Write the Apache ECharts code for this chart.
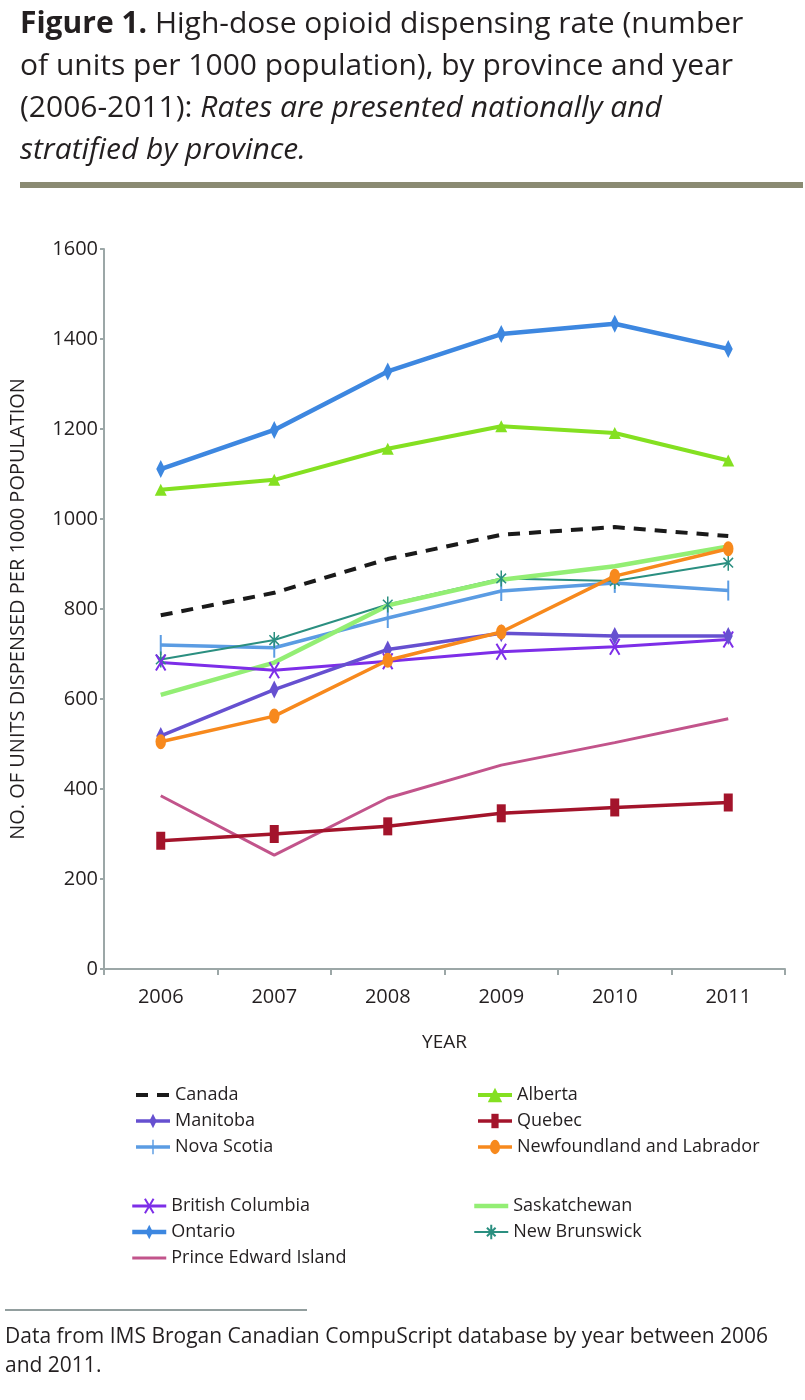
<!DOCTYPE html>
<html>
<head>
<meta charset="utf-8">
<script src="https://cdn.jsdelivr.net/npm/echarts@6/dist/echarts.min.js"></script>
<style>
html,body{margin:0;padding:0;background:#fff;}
#chart{width:805px;height:1400px;}
</style>
</head>
<body>
<div id="chart"></div>
<script>
const years = ['2006','2007','2008','2009','2010','2011'];
const yTicks = [0,200,400,600,800,1000,1200,1400,1600];
const canada = [786, 836, 911, 965, 982, 962];
const alberta = [1065, 1087, 1156, 1206, 1191, 1130];
const manitoba = [518, 621, 710, 746, 740, 740];
const quebec = [285, 300, 317, 346, 359, 370];
const novaScotia = [720, 714, 780, 840, 858, 841];
const newfoundland = [505, 562, 686, 749, 873, 934];
const britishColumbia = [681, 664, 684, 705, 716, 732];
const saskatchewan = [609, 681, 808, 865, 895, 939];
const ontario = [1111, 1198, 1328, 1411, 1434, 1378];
const newBrunswick = [688, 731, 810, 868, 862, 903];
const pei = [385, 253, 380, 453, 503, 556];

const FONT = '"Open Sans", "Noto Sans", sans-serif';
const TXT = '#231f20';
const AXIS = '#9ca7a7';

// marker shapes drawn inside a 20x20 frame (corner points fix the frame)
const FRAME = 'M0,0L0,0M20,20L20,20';
const NO_SYMBOL = 'path://' + FRAME;
const DIAMOND = 'path://' + FRAME + 'M10,0L15,10L10,20L5,10Z';
const BAR = 'path://' + FRAME + 'M5,0L15,0L15,20L5,20Z';
const THIN = 'path://' + FRAME + 'M9,0L11,0L11,20L9,20Z';
const ELLIPSE = 'path://' + FRAME + 'M10,0A7,10,0,1,1,10,20A7,10,0,1,1,10,0Z';
const XMARK = 'path://' + FRAME + 'M4,0L16,20M16,0L4,20';
const STAR = 'path://' + FRAME + 'M10,0L10,20M4,4L16,16M16,4L4,16';

function line(name, data, color, width, symbol, size, extra) {
  const s = {
    name: name, type: 'line', data: data,
    symbol: symbol || NO_SYMBOL, symbolSize: size || 0,
    showSymbol: !!symbol,
    lineStyle: {color: color, width: width},
    itemStyle: {color: color},
    emphasis: {disabled: true},
    z: 2
  };
  return Object.assign(s, extra || {});
}

const series = [
  line('Prince Edward Island', pei, '#c2548b', 3),
  line('Quebec', quebec, '#a3142b', 3.5, BAR, 18),
  line('Canada', canada, '#1a1a1a', 4, null, null, {lineStyle: {color: '#1a1a1a', width: 4, type: [12, 9]}}),
  line('Nova Scotia', novaScotia, '#5b9ce3', 3.5, THIN, 20),
  line('New Brunswick', newBrunswick, '#2b8f80', 2, STAR, 16,
       {itemStyle: {color: '#2b8f80', borderColor: '#2b8f80', borderWidth: 1.5}}),
  line('Saskatchewan', saskatchewan, '#93ee74', 4.5),
  line('British Columbia', britishColumbia, '#7d2ee8', 3, XMARK, 16,
       {itemStyle: {color: '#7d2ee8', borderColor: '#7d2ee8', borderWidth: 2}}),
  line('Manitoba', manitoba, '#6650d0', 3.5, DIAMOND, 18),
  line('Newfoundland and Labrador', newfoundland, '#f7891d', 3.5, ELLIPSE, 15),
  line('Alberta', alberta, '#84e021', 4, 'triangle', [12, 12]),
  line('Ontario', ontario, '#3d87e0', 4.5, DIAMOND, 18)
];

function legend(names, left, top) {
  return {
    data: names, left: left, top: top, orient: 'vertical',
    itemWidth: 34, itemHeight: 18, itemGap: 8,
    selectedMode: false,
    lineStyle: {width: 'inherit'},
    textStyle: {fontFamily: FONT, fontSize: 18, color: TXT, lineHeight: 18}
  };
}

const chart = echarts.init(document.getElementById('chart'), null, {renderer: 'canvas'});
chart.setOption({
  animation: false,
  backgroundColor: '#fff',
  grid: {left: 89, right: 20, top: 249, bottom: 431},
  xAxis: {
    type: 'category', data: years, boundaryGap: true,
    name: 'YEAR', nameLocation: 'middle', nameGap: 64,
    nameTextStyle: {fontFamily: FONT, fontSize: 19, color: TXT},
    axisLine: {lineStyle: {color: AXIS, width: 2}},
    axisTick: {show: true, length: 6, lineStyle: {color: AXIS, width: 2}},
    axisLabel: {fontFamily: FONT, fontSize: 20, color: TXT, margin: 18}
  },
  yAxis: {
    type: 'value', min: yTicks[0], max: yTicks[yTicks.length - 1], interval: 200,
    name: 'NO. OF UNITS DISPENSED PER 1000 POPULATION',
    nameLocation: 'middle', nameRotate: 90, nameGap: 76,
    nameTextStyle: {fontFamily: FONT, fontSize: 20, color: TXT},
    axisLine: {show: true, lineStyle: {color: AXIS, width: 2}},
    axisTick: {show: true, length: 4, lineStyle: {color: AXIS, width: 2}},
    splitLine: {show: false},
    axisLabel: {fontFamily: FONT, fontSize: 20, color: TXT, margin: 6, formatter: function (v) { return String(v); }}
  },
  legend: [
    legend(['Canada', 'Manitoba', 'Nova Scotia'], 129, 1081),
    legend(['Alberta', 'Quebec', 'Newfoundland and Labrador'], 471, 1081),
    legend(['British Columbia', 'Ontario', 'Prince Edward Island'], 125, 1192),
    legend(['Saskatchewan', 'New Brunswick'], 467, 1192)
  ],
  graphic: [
    {
      type: 'text', left: 20, top: 3,
      style: {
        text: '{b|Figure 1.} High-dose opioid dispensing rate (number\nof units per 1000 population), by province and year\n(2006-2011): {i|Rates are presented nationally and}\n{i|stratified by province.}',
        font: '30px ' + FONT, fill: TXT, lineHeight: 42,
        rich: {
          b: {fontWeight: 'bold', fontSize: 30, fontFamily: FONT, fill: TXT, lineHeight: 42},
          i: {fontStyle: 'italic', fontSize: 30, fontFamily: FONT, fill: TXT, lineHeight: 42}
        }
      }
    },
    {type: 'rect', shape: {x: 20, y: 182, width: 783, height: 6}, style: {fill: '#8a8a72'}},
    {type: 'line', shape: {x1: 5, y1: 1310, x2: 307, y2: 1310}, style: {stroke: '#6e7e7e', lineWidth: 1.5}},
    {
      type: 'text', left: 5, top: 1323,
      style: {
        text: 'Data from IMS Brogan Canadian CompuScript database by year between 2006\nand 2011.',
        font: '21px ' + FONT, fill: TXT, lineHeight: 29
      }
    }
  ],
  series: series
});
</script>
</body>
</html>
